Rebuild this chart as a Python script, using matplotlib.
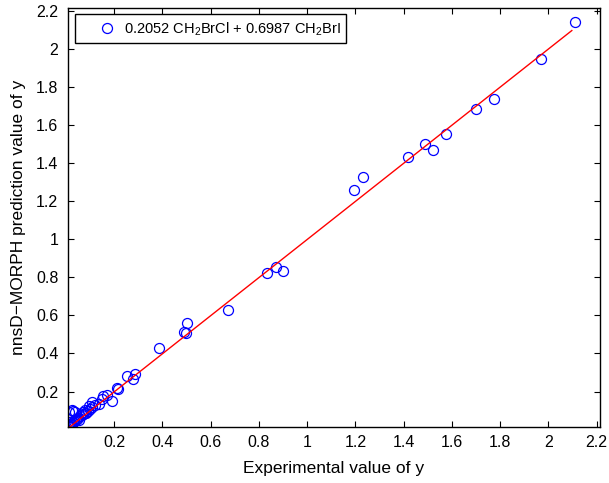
import matplotlib
matplotlib.use("Agg")
import matplotlib.pyplot as plt

plt.rcParams['font.family'] = ['Liberation Sans', 'DejaVu Sans']
plt.rcParams['mathtext.fontset'] = 'custom'
plt.rcParams['mathtext.rm'] = 'Liberation Sans'
plt.rcParams['mathtext.it'] = 'Liberation Sans:italic'

# experimental vs predicted values
exp_y = [
    0.012, 0.015, 0.018, 0.020, 0.022, 0.025, 0.028, 0.030, 0.035, 0.040,
    0.045, 0.050, 0.055, 0.060, 0.065, 0.070, 0.080, 0.085, 0.090, 0.100,
    0.110, 0.120, 0.011, 0.025, 0.031, 0.038, 0.073, 0.080, 0.098, 0.107,
    0.139, 0.149, 0.156, 0.170, 0.190, 0.211, 0.218, 0.255, 0.277, 0.287,
    0.385, 0.491, 0.498, 0.501, 0.670, 0.835, 0.873, 0.898, 1.196, 1.233,
    1.419, 1.489, 1.521, 1.577, 1.698, 1.776, 1.970, 2.111,
]
pred_y = [
    0.015, 0.020, 0.018, 0.025, 0.030, 0.028, 0.035, 0.040, 0.045, 0.050,
    0.055, 0.060, 0.050, 0.070, 0.075, 0.080, 0.085, 0.090, 0.100, 0.110,
    0.120, 0.130, 0.091, 0.101, 0.096, 0.091, 0.091, 0.105, 0.122, 0.143,
    0.135, 0.161, 0.175, 0.182, 0.149, 0.220, 0.216, 0.280, 0.266, 0.291,
    0.429, 0.511, 0.508, 0.560, 0.628, 0.822, 0.854, 0.835, 1.258, 1.326,
    1.430, 1.500, 1.471, 1.552, 1.682, 1.738, 1.947, 2.142,
]

# regression line end points
fit_x = [0.011, 2.097]
fit_y = [0.009, 2.096]

ticks = [0.2, 0.4, 0.6, 0.8, 1.0, 1.2, 1.4, 1.6, 1.8, 2.0, 2.2]
tick_labels = ['0.2', '0.4', '0.6', '0.8', '1', '1.2', '1.4', '1.6', '1.8', '2', '2.2']

fig = plt.figure(figsize=(6.09, 4.83), dpi=100)
ax = fig.add_axes([0.1117, 0.116, 0.8736, 0.8665])

ax.plot(exp_y, pred_y, 'o', mfc='none', mec='#0000ff', mew=0.9, ms=7.2,
        label='0.2052 CH$_2$BrCl + 0.6987 CH$_2$BrI')
ax.plot(fit_x, fit_y, '-', color='#ff0000', lw=1.0)

ax.set_xlim(0.009, 2.214)
ax.set_ylim(0.014, 2.212)
ax.set_xticks(ticks)
ax.set_xticklabels(tick_labels)
ax.set_yticks(ticks)
ax.set_yticklabels(tick_labels)
ax.tick_params(direction='in', top=True, right=True, length=4, width=0.8,
               labelsize=11.5, colors='black')
ax.tick_params(axis='x', pad=6)
ax.tick_params(axis='y', pad=7)
for s in ax.spines.values():
    s.set_linewidth(1.0)

ax.set_xlabel('Experimental value of y', fontsize=12.5, labelpad=8)
ax.set_ylabel('nnsD\u2212MORPH prediction value of y', fontsize=12.5, labelpad=7)

# wide handle with negative pad puts the marker further in from the frame
leg = ax.legend(loc='upper left', fontsize=10.5, fancybox=False, framealpha=1,
                edgecolor='black', borderpad=0.4, handletextpad=-0.6,
                handlelength=3.55, borderaxespad=0,
                bbox_to_anchor=(0.013, 0.986))
leg.get_frame().set_linewidth(1.0)

fig.savefig('out.png', dpi=100)
